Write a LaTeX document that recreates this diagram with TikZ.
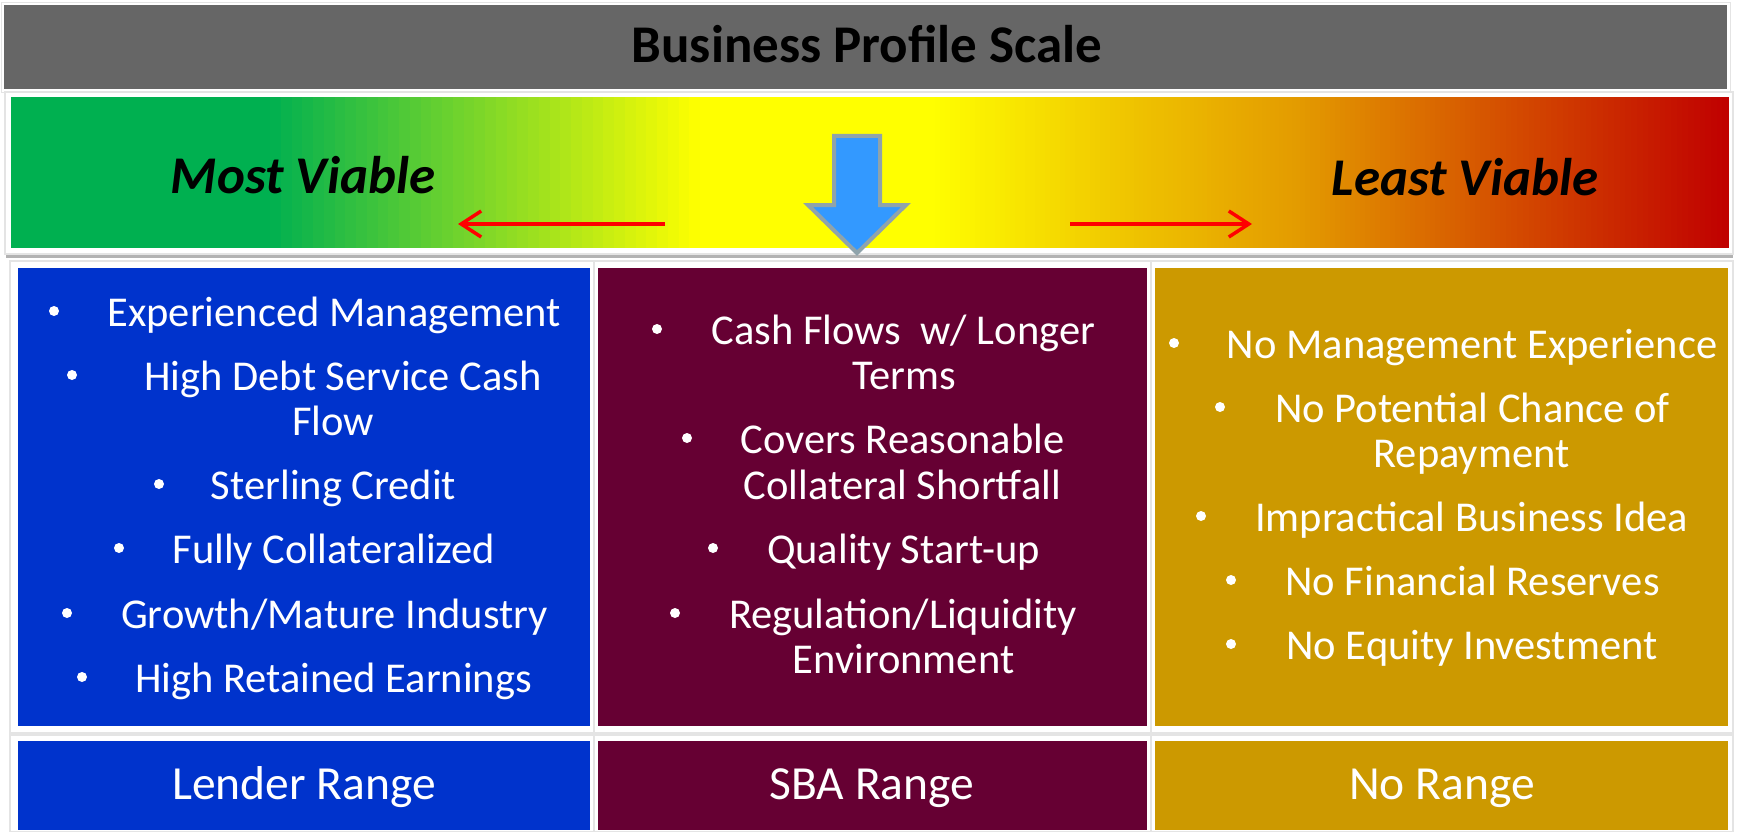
\documentclass[tikz,border=0pt]{standalone}
\usepackage{fontspec}
\setmainfont{Carlito}
\usetikzlibrary{arrows.meta}
\definecolor{barGray}{HTML}{666666}
\definecolor{vGreen}{HTML}{00B050}
\definecolor{vYellow}{HTML}{FFFF00}
\definecolor{vAmber}{HTML}{EFC400}
\definecolor{vOrange}{HTML}{E39A00}
\definecolor{vDeep}{HTML}{D55000}
\definecolor{vRed}{HTML}{C00000}
\definecolor{colBlue}{HTML}{0033CC}
\definecolor{colMaroon}{HTML}{660033}
\definecolor{colGold}{HTML}{CC9900}
\definecolor{arrFill}{HTML}{3399FF}
\definecolor{arrEdge}{HTML}{8FA3AB}
\definecolor{frameLine}{HTML}{E4E4E4}
\tikzset{
  panelframe/.style={fill=white, draw=frameLine, line width=1.2pt},
  itemtext/.style={text=white, font=\fontsize{42.5}{45}\selectfont, anchor=base, inner sep=0pt},
  bul/.style={circle, fill=white, minimum size=10pt, inner sep=0pt},
  rangetext/.style={text=white, font=\fontsize{47.5}{50}\selectfont, anchor=base, inner sep=0pt},
  viable/.style={text=black, font=\fontsize{53}{56}\selectfont\bfseries\itshape, anchor=base, inner sep=0pt},
  redarrow/.style={draw=red, line width=3.5pt, -{Straight Barb[length=20pt,width=26pt,line width=3.5pt]}}
}
\newcommand{\gradseg}[4]{% x0, x1, colour A, colour B
  \pgfmathsetmacro{\segw}{(#2-#1)/40}%
  \foreach \k in {0,...,39}{%
    \pgfmathsetmacro{\pct}{100*(\k+0.5)/40}%
    \pgfmathsetmacro{\xa}{#1+\k*\segw}%
    \pgfmathsetmacro{\xb}{#1+(\k+1)*\segw+0.6}%
    \fill[#4!\pct!#3] (\xa,97) rectangle (\xb,248);%
  }%
}
\begin{document}
\begin{tikzpicture}[x=1pt,y=-1pt]
\useasboundingbox (0,0) rectangle (1737,832);
\fill[white] (0,0) rectangle (1737,832);

% title bar
\fill[frameLine] (1,2) rectangle (1731,93);
\fill[white] (2,3) rectangle (1730,92);
\fill[barGray] (4,5) rectangle (1727,89);
\node[text=black, font=\fontsize{53}{56}\selectfont\bfseries, anchor=base, inner sep=0pt] (title) at (867,63) {Business Profile Scale};

% gradient bar frame and shadow
\fill[black!30] (6,252) rectangle (1733,258);
\draw[panelframe] (5,92) rectangle (1733,254);
% gradient
\fill[vGreen] (11,97) rectangle (271,248);
\gradseg{270}{700}{vGreen}{vYellow}
\fill[vYellow] (700,97) rectangle (931,248);
\gradseg{930}{1130}{vYellow}{vAmber}
\gradseg{1130}{1300}{vAmber}{vOrange}
\gradseg{1300}{1500}{vOrange}{vDeep}
\gradseg{1500}{1728}{vDeep}{vRed}

\node[viable] (most) at (303,193) {Most Viable};
\node[viable] (least) at (1465,195) {Least Viable};

\coordinate (la1) at (665,224);
\coordinate (la2) at (458,224);
\coordinate (ra1) at (1070,224);
\coordinate (ra2) at (1252,224);
\draw[redarrow] (la1) -- (la2);
\draw[redarrow] (ra1) -- (ra2);

% column frames
\draw[panelframe] (10,261) rectangle (594,733);
\draw[panelframe] (594,261) rectangle (1151,733);
\draw[panelframe] (1151,261) rectangle (1733,733);
\draw[panelframe] (10,735) rectangle (594,832);
\draw[panelframe] (594,735) rectangle (1151,832);
\draw[panelframe] (1151,735) rectangle (1733,832);

% columns
\fill[colBlue] (18,268) rectangle (590,726);
\fill[colMaroon] (598,268) rectangle (1147,726);
\fill[colGold] (1155,268) rectangle (1728,726);
\fill[colBlue] (18,741) rectangle (590,830);
\fill[colMaroon] (598,741) rectangle (1147,830);
\fill[colGold] (1155,741) rectangle (1728,830);

% blue pointer arrow
\draw[fill=arrFill, draw=arrEdge, line width=4pt, line join=miter]
  (834,136) -- (880,136) -- (880,205) -- (906,205) -- (857,253) -- (808,205) -- (834,205) -- cycle;

% left column
\node[bul] (b11) at (54,311) {};
\node[itemtext] (t11) at (334,326) {Experienced Management};
\node[bul] (b12) at (72,375) {};
\node[itemtext] (t12) at (343,390) {High Debt Service Cash};
\node[itemtext] (t12b) at (333,435) {Flow};
\node[bul] (b13) at (159,484) {};
\node[itemtext] (t13) at (333.5,499) {Sterling Credit};
\node[bul] (b14) at (119,548) {};
\node[itemtext] (t14) at (334,563) {Fully Collateralized};
\node[bul] (b15) at (67,613) {};
\node[itemtext] (t15) at (334.5,628) {Growth/Mature Industry};
\node[bul] (b16) at (82,677) {};
\node[itemtext] (t16) at (333.5,692) {High Retained Earnings};

% middle column
\node[bul] (b21) at (657,329) {};
\node[itemtext] (t21) at (903.5,344) {Cash Flows\ \ w/ Longer};
\node[itemtext] (t21b) at (904,389) {Terms};
\node[bul] (b22) at (687,438) {};
\node[itemtext] (t22) at (902.5,453) {Covers Reasonable};
\node[itemtext] (t22b) at (902.5,499) {Collateral Shortfall};
\node[bul] (b23) at (713,548) {};
\node[itemtext] (t23) at (903.5,563) {Quality Start-up};
\node[bul] (b24) at (675,613) {};
\node[itemtext] (t24) at (903,628) {Regulation/Liquidity};
\node[itemtext] (t24b) at (903.5,673) {Environment};

% right column
\node[bul] (b31) at (1174,343) {};
\node[itemtext] (t31) at (1472,358) {No Management Experience};
\node[bul] (b32) at (1220,407) {};
\node[itemtext] (t32) at (1472.5,422) {No Potential Chance of};
\node[itemtext] (t32b) at (1471.5,467) {Repayment};
\node[bul] (b33) at (1201,516) {};
\node[itemtext] (t33) at (1471.5,531) {Impractical Business Idea};
\node[bul] (b34) at (1231,580) {};
\node[itemtext] (t34) at (1472.5,595) {No Financial Reserves};
\node[bul] (b35) at (1231,644) {};
\node[itemtext] (t35) at (1472,659) {No Equity Investment};

% bottom range labels
\node[rangetext] (r1) at (304,799) {Lender Range};
\node[rangetext] (r2) at (872,799) {SBA Range};
\node[rangetext] (r3) at (1442,799) {No Range};
\end{tikzpicture}
\end{document}
